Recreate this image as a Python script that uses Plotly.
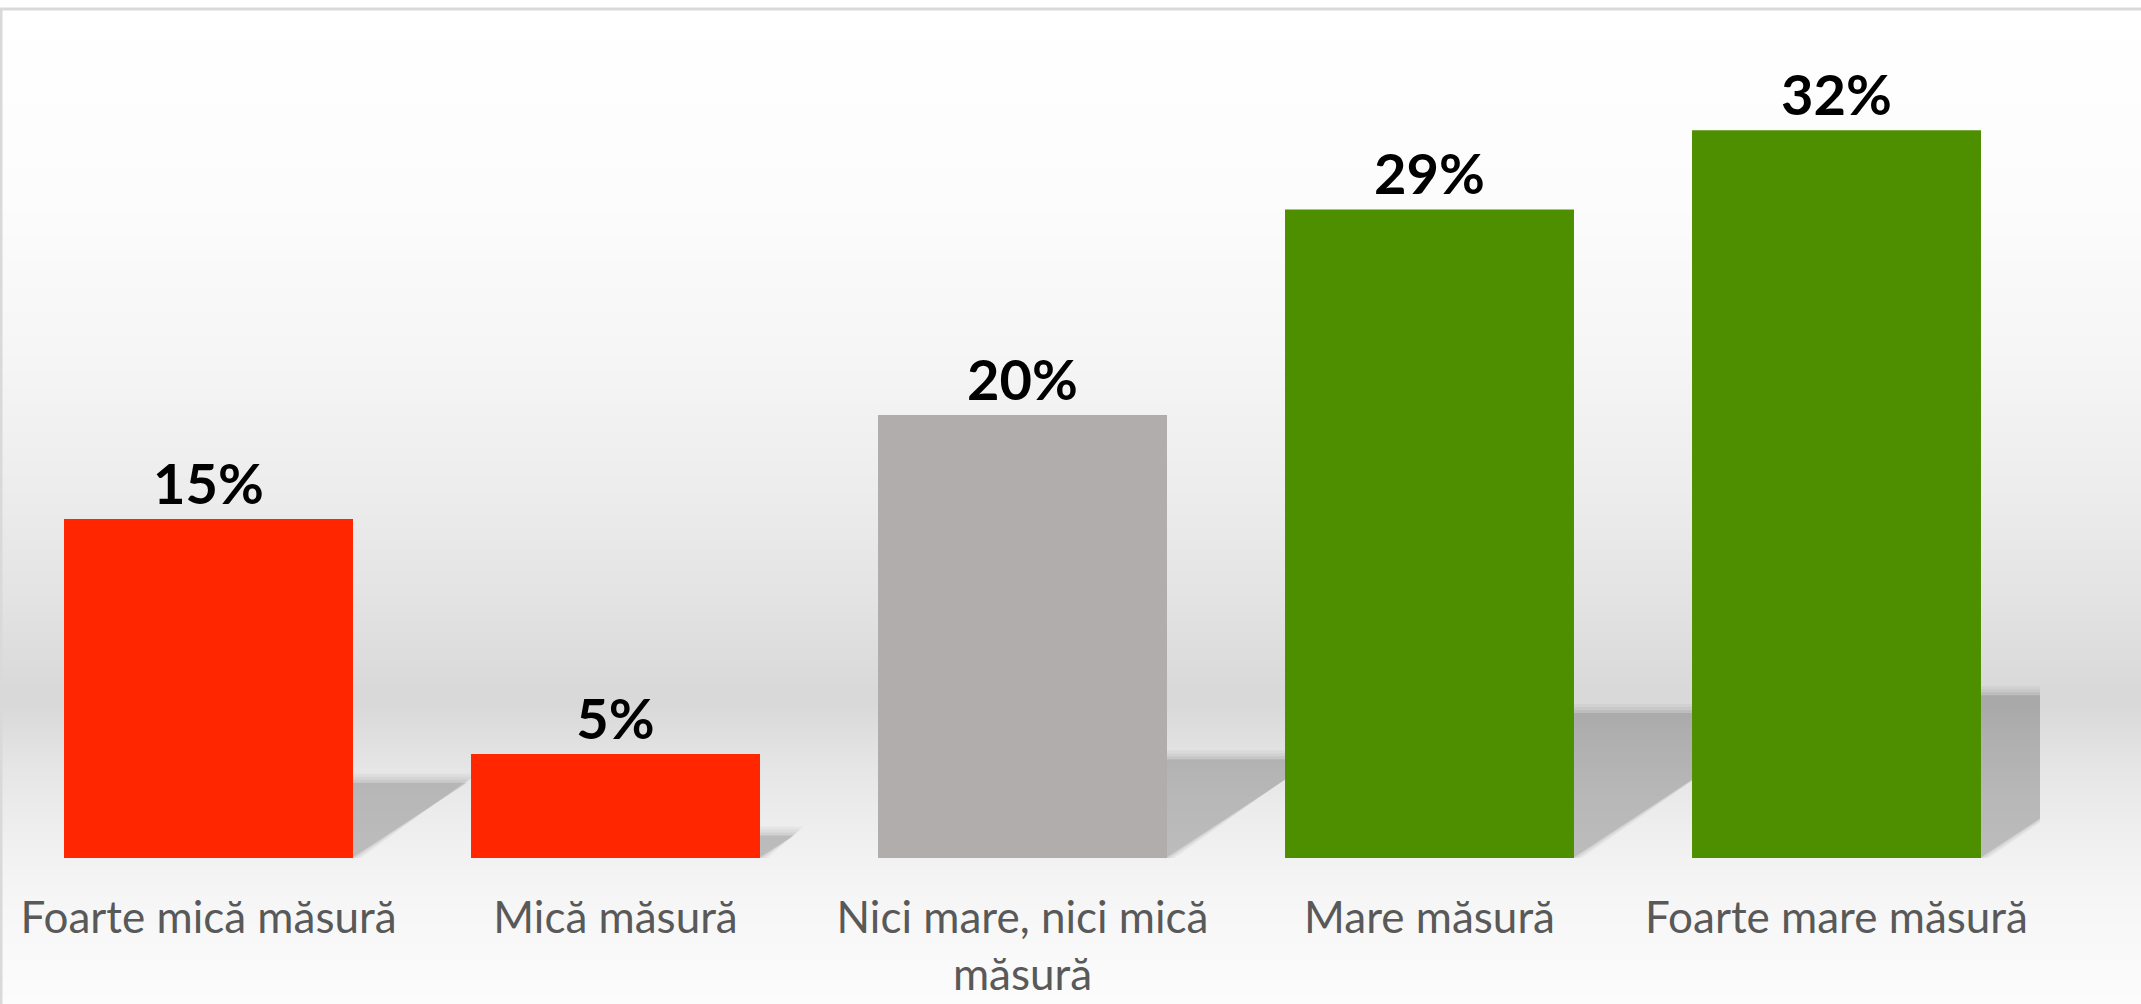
import base64, struct, zlib
import numpy as np
import plotly.graph_objects as go

# ---------------- data ----------------
categories = ["Foarte mică măsură", "Mică măsură", "Nici mare, nici mică<br>măsură",
              "Mare măsură", "Foarte mare măsură"]
values = [15.0, 4.6, 19.6, 28.7, 32.2]
value_labels = ["15%", "5%", "20%", "29%", "32%"]
bar_colors = ["#FF2600", "#FF2600", "#B0ADAC", "#4E8F00", "#4E8F00"]

# ---------------- geometry ----------------
W, H = 2141, 1004
ML, MR, MT, MB = 5, 101, 67, 146
PW, PH = W - ML - MR, H - MT - MB
YMAX = 35
BAR_W = 0.71
x_pos = list(range(len(categories)))
px_per_y = PH / YMAX
px_per_x = PW / len(categories)

# ---------------- background gradient (PNG) ----------------
def gradient_png(levels):
    raw = b"".join(b"\x00" + bytes([int(v), int(v)]) for v in levels)
    def chunk(tag, data):
        c = tag + data
        return struct.pack(">I", len(data)) + c + struct.pack(">I", zlib.crc32(c) & 0xFFFFFFFF)
    ihdr = struct.pack(">IIBBBBB", 2, len(levels), 8, 0, 0, 0, 0)
    png = b"\x89PNG\r\n\x1a\n" + chunk(b"IHDR", ihdr) + chunk(b"IDAT", zlib.compress(raw, 9)) + chunk(b"IEND", b"")
    return "data:image/png;base64," + base64.b64encode(png).decode()

TOP = 9
stop_y = [9, 200, 350, 500, 600, 690, 705, 770, 850, 900, 1004]
stop_v = [255, 252, 246, 236, 227, 217, 217, 230, 241, 246, 252]
rows = np.arange(TOP, H + 1)
levels = np.clip(np.round(np.interp(rows, stop_y, stop_v)), 0, 255)
bg_src = gradient_png(levels)

def px_to_paper_x(px):
    return (px - ML) / PW

def px_to_paper_y(py):
    return (H - MB - py) / PH

fig = go.Figure()
fig.add_trace(go.Bar(
    x=x_pos, y=values, width=BAR_W,
    marker=dict(color=bar_colors, line=dict(width=0)),
    text=value_labels, textposition="outside",
    textfont=dict(family="Lato", size=56, color="#000000", weight="bold"),
    cliponaxis=False, hoverinfo="skip",
))

shapes = []
# perspective shadows derived from bar values
for i, v in zip(x_pos, values):
    rise = 0.225 * v
    shift = 1.51 * rise * px_per_y / px_per_x
    x0, x1 = i - BAR_W / 2, i + BAR_W / 2
    for op, grow in [(0.035, 8), (0.04, 5), (0.05, 2), (0.10, -1)]:
        gx = grow / px_per_x
        gy = grow / px_per_y
        path = (f"M {x0} 0 L {x1 + gx} 0 L {x1 + shift + gx} {rise + gy} "
                f"L {x0 + shift} {rise + gy} Z")
        shapes.append(dict(type="path", path=path, xref="x", yref="y", layer="below",
                           fillcolor=f"rgba(0,0,0,{op})", line=dict(width=0)))

# chart-area border
shapes.append(dict(type="rect", xref="paper", yref="paper",
                   x0=px_to_paper_x(1), x1=px_to_paper_x(W + 20),
                   y0=px_to_paper_y(H + 20), y1=px_to_paper_y(TOP),
                   line=dict(color="#D9D9D9", width=3), fillcolor="rgba(0,0,0,0)",
                   layer="below"))

fig.update_layout(
    width=W, height=H,
    margin=dict(l=ML, r=MR, t=MT, b=MB, pad=0),
    paper_bgcolor="#FFFFFF", plot_bgcolor="rgba(0,0,0,0)",
    showlegend=False,
    shapes=shapes,
    images=[dict(source=bg_src, xref="paper", yref="paper",
                 x=px_to_paper_x(0), y=px_to_paper_y(TOP),
                 sizex=W / PW, sizey=(H - TOP) / PH,
                 xanchor="left", yanchor="top", sizing="stretch", layer="below")],
    xaxis=dict(range=[-0.5, len(categories) - 0.5], tickvals=x_pos, ticktext=categories,
               showgrid=False, zeroline=False, showline=False, ticks="",
               ticklabelstandoff=30,
               tickfont=dict(family="Lato", size=44, color="#595959"), fixedrange=True),
    yaxis=dict(range=[0, YMAX], visible=False, showgrid=False, zeroline=False, fixedrange=True),
    bargap=0.29,
)

fig.write_html("out.html", config={"displayModeBar": False},
               post_script="document.body.style.margin='0';document.body.style.overflow='hidden';")
